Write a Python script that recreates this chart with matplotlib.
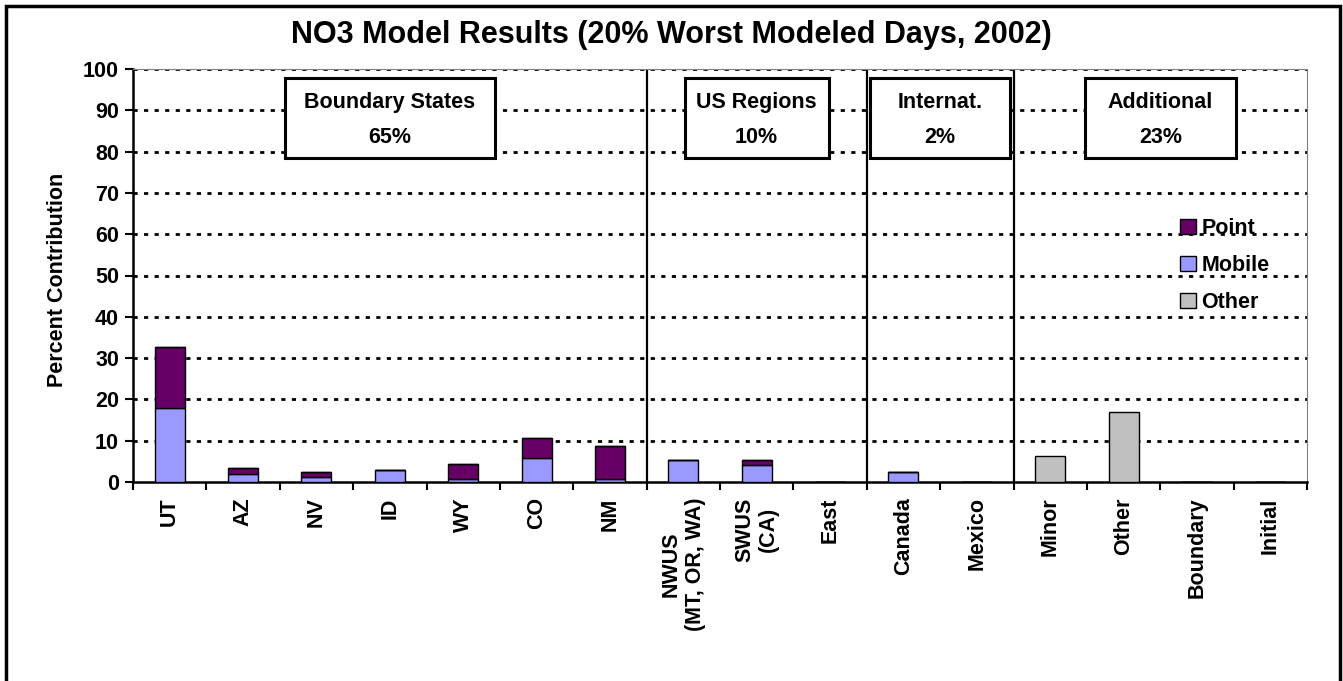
#!/usr/bin/env python3

import matplotlib.pyplot as plt
import matplotlib.patches as mpatches
import numpy as np

plt.rcParams['font.family'] = ['Liberation Sans', 'DejaVu Sans']
plt.rcParams['font.weight'] = 'bold'


# Data. Percent contribution by source region.
regions = ['UT', 'AZ', 'NV', 'ID', 'WY', 'CO', 'NM',
           'NWUS\n(MT, OR, WA)', 'SWUS\n(CA)', 'East',
           'Canada', 'Mexico',
           'Minor', 'Other', 'Boundary', 'Initial']
mobile = [17.8, 1.9, 1.3, 2.9, 0.7, 5.7, 0.8,
          5.3, 4.1, 0.0,
          2.5, 0.0,
          0.0, 0.0, 0.0, 0.0]
point = [15.0, 1.6, 1.2, 0.0, 3.7, 5.0, 7.9,
         0.0, 1.2, 0.0,
         0.0, 0.0,
         0.0, 0.0, 0.0, 0.0]
other = [0.0, 0.0, 0.0, 0.0, 0.0, 0.0, 0.0,
         0.0, 0.0, 0.0,
         0.0, 0.0,
         6.3, 16.9, 0.0, 0.0]

# Groups: label, share, first and last category index.
groups = ['Boundary States', 'US Regions', 'Internat.', 'Additional']
shares = ['65%', '10%', '2%', '23%']
spans = [(0, 6), (7, 9), (10, 11), (12, 15)]

title = 'NO3 Model Results (20% Worst Modeled Days, 2002)'
ylabel = 'Percent Contribution'

c_point = '#660066'
c_mobile = '#9999ff'
c_other = '#c0c0c0'


# Figure.
fig = plt.figure(figsize=(13.43, 6.81), dpi=100)
ax = fig.add_axes((133 / 1343, 1 - 482 / 681, 1174 / 1343, 413 / 681))

x = np.arange(len(regions))
mobile = np.array(mobile)
point = np.array(point)
other = np.array(other)
w = 0.41
kw = dict(width=w, edgecolor='black', linewidth=1.0, zorder=3)

ax.bar(x, mobile, color=c_mobile, **kw)
ax.bar(x, point, bottom=mobile, color=c_point, **kw)
ax.bar(x, other, bottom=mobile + point, color=c_other, **kw)

ax.set_xlim(-0.5, len(regions) - 0.5)
ax.set_ylim(0, 100)

# Grid and separators.
ax.set_yticks(np.arange(0, 101, 10))
for y in range(10, 101, 10):
    ax.axhline(y, color='black', lw=2.0, ls=(0, (1.5, 2.3)), zorder=1)
for a, b in spans[:-1]:
    ax.axvline(b + 0.5, color='black', lw=1.6, zorder=2)

# Spines.
for s in ('left', 'bottom'):
    ax.spines[s].set_linewidth(1.8)
for s in ('top', 'right'):
    ax.spines[s].set_linewidth(0.8)
    ax.spines[s].set_color('#808080')

# Ticks.
ax.set_xticks(x)
ax.set_xticklabels(regions, rotation=90, fontsize=15.5, fontweight='bold',
                   va='top', ha='center', multialignment='center')
ax.set_xticks(np.arange(-0.5, len(regions), 1), minor=True)
ax.tick_params(axis='x', which='major', length=0, pad=11)
ax.tick_params(axis='x', which='minor', length=6, width=1.5, direction='out')
ax.tick_params(axis='y', length=6, width=1.5, direction='out', labelsize=15.5, pad=4)
for t in ax.get_yticklabels():
    t.set_fontweight('bold')

ax.set_ylabel(ylabel, fontsize=15.5, fontweight='bold')
ax.yaxis.set_label_coords(-0.0555, 0.489)

# Group boxes.
for (a, b), g, s in zip(spans, groups, shares):
    cx = (a + b) / 2
    half = {0: 1.43, 7: 0.98, 10: 0.95, 12: 1.03}[a]
    rect = mpatches.Rectangle((cx - half, 78.4), 2 * half, 19.4,
                              facecolor='white', edgecolor='black',
                              lw=2.2, zorder=4)
    ax.add_patch(rect)
    ax.text(cx, 87.6, g + '\n' + s, ha='center', va='center', fontsize=15.5,
            fontweight='bold', linespacing=1.9, zorder=5)

# Legend.
handles = [mpatches.Patch(facecolor=c, edgecolor='black', lw=1.0)
           for c in (c_point, c_mobile, c_other)]
leg = ax.legend(handles, ['Point', 'Mobile', 'Other'], loc='center',
                bbox_to_anchor=(0.930, 0.524), frameon=False, fontsize=15.5,
                handlelength=0.72, handleheight=0.72, handletextpad=0.25,
                labelspacing=0.75)
for t in leg.get_texts():
    t.set_fontweight('bold')

# Title and outer frame.
fig.text(0.5, 1 - 35 / 681, title, ha='center', va='center', fontsize=22,
         fontweight='bold')
frame = mpatches.Rectangle((6 / 1343, -0.1), 1334 / 1343, 1.1 - 6 / 681,
                           transform=fig.transFigure, fill=False,
                           edgecolor='black', lw=2.5, clip_on=False)
fig.patches.append(frame)

fig.savefig('out.png', dpi=100)
